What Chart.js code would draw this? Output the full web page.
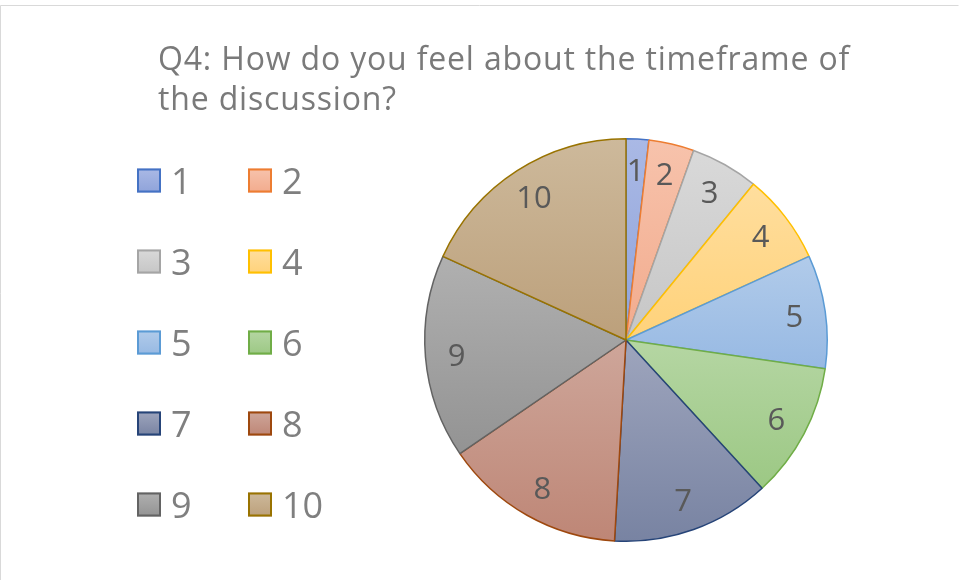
<!DOCTYPE html>
<html>
<head>
<meta charset="utf-8">
<script src="https://cdn.jsdelivr.net/npm/chart.js@4/dist/chart.umd.min.js"></script>
<style>
  html, body { margin: 0; padding: 0; background: #ffffff; }
  #wrap { position: relative; width: 959px; height: 580px; }
  canvas { display: block; }
</style>
</head>
<body>
<div id="wrap"><canvas id="c" width="959" height="580"></canvas></div>
<script>
// ---- data ----
const titleLines = ["Q4: How do you feel about the timeframe of", "the discussion?"];
const categories = ["1", "2", "3", "4", "5", "6", "7", "8", "9", "10"];
const responses  = [1, 2, 3, 4, 5, 6, 7, 8, 9, 10];

// ---- styles ----
const fillTop    = ['#AAB9E5','#F7C3AC','#D9D9D9','#FFDE9E','#B1CBEA','#B5D6A3','#9EA5BD','#CEA69A','#B0B0B0','#CDB99B'];
const fillBottom = ['#8FA3DA','#F2AB8D','#C6C6C6','#FFD27A','#97B9E3','#9CC884','#7883A2','#BE8676','#939393','#BCA07B'];
const borders    = ['#4472C4','#ED7D31','#A5A5A5','#FFC000','#5B9BD5','#70AD47','#264478','#9E480E','#636363','#997300'];
const FONT = '"Open Sans", "Liberation Sans", sans-serif';

function sliceFill(ctx) {
  const chart = ctx.chart, a = chart.chartArea, i = ctx.dataIndex;
  if (!a || i === undefined) return fillTop[i] || '#ccc';
  const cx = (a.left + a.right) / 2, cy = (a.top + a.bottom) / 2;
  const r = Math.min(a.width, a.height) / 2;
  const vals = ctx.dataset.data;
  const total = vals.reduce((s, v) => s + v, 0);
  let cum = 0; for (let k = 0; k < i; k++) cum += vals[k];
  const s = -Math.PI / 2 + cum / total * 2 * Math.PI;
  const e = s + vals[i] / total * 2 * Math.PI;
  const ys = [cy, cy + r * Math.sin(s), cy + r * Math.sin(e)];
  if (s <= Math.PI / 2 && e >= Math.PI / 2) ys.push(cy + r);
  if (s <= -Math.PI / 2 + 1e-9 || e >= 1.5 * Math.PI - 1e-9) ys.push(cy - r);
  const y0 = Math.min(...ys), y1 = Math.max(...ys);
  const g = chart.ctx.createLinearGradient(0, y0, 0, Math.max(y1, y0 + 1));
  g.addColorStop(0, fillTop[i]);
  g.addColorStop(1, fillBottom[i]);
  return g;
}

const decor = {
  id: 'decor',
  beforeDraw(chart) {
    const c = chart.ctx;
    c.save();
    c.fillStyle = '#ffffff';
    c.fillRect(0, 0, chart.width, chart.height);
    c.strokeStyle = '#D9D9D9';
    c.lineWidth = 1;
    c.beginPath();
    c.moveTo(0.5, chart.height + 5);
    c.lineTo(0.5, 5.5);
    c.lineTo(958.5, 5.5);
    c.stroke();
    c.restore();
  },
  afterDraw(chart) {
    const c = chart.ctx;
    c.save();
    // title
    c.fillStyle = '#7A7A7A';
    c.font = '32px ' + FONT;
    c.textBaseline = 'alphabetic';
    c.textAlign = 'left';
    const w0 = c.measureText(titleLines[0]).width;
    const sp = Math.max(0, (692 - w0) / titleLines[0].length);
    if ('letterSpacing' in c) c.letterSpacing = sp.toFixed(2) + 'px';
    c.fillText(titleLines[0], 158, 70);
    c.fillText(titleLines[1], 158, 110);
    if ('letterSpacing' in c) c.letterSpacing = '0px';

    // legend (2 columns)
    c.font = '36px ' + FONT;
    for (let i = 0; i < categories.length; i++) {
      const col = i % 2, row = Math.floor(i / 2);
      const bx = col === 0 ? 137 : 248;
      const tx = col === 0 ? 171 : 282;
      const cyRow = 180.5 + row * 81;
      const bs = 24;
      const g = c.createLinearGradient(0, cyRow - bs / 2, 0, cyRow + bs / 2);
      g.addColorStop(0, fillTop[i]); g.addColorStop(1, fillBottom[i]);
      c.fillStyle = g;
      c.fillRect(bx, cyRow - bs / 2, bs, bs);
      c.strokeStyle = borders[i];
      c.lineWidth = 2;
      c.strokeRect(bx + 1, cyRow - bs / 2 + 1, bs - 2, bs - 2);
      c.fillStyle = '#7F7F7F';
      c.fillText(categories[i], tx, cyRow + 13);
    }

    // data labels
    const meta = chart.getDatasetMeta(0);
    c.font = '31px ' + FONT;
    c.fillStyle = '#595959';
    c.textAlign = 'center';
    meta.data.forEach((arc, i) => {
      const p = arc.getProps(['x', 'y', 'startAngle', 'endAngle', 'outerRadius'], true);
      const mid = (p.startAngle + p.endAngle) / 2;
      const rr = p.outerRadius * 0.845;
      const x = p.x + Math.cos(mid) * rr;
      const y = p.y + Math.sin(mid) * rr;
      c.fillText(String(chart.data.datasets[0].data[i]), x, y + 11);
    });
    c.restore();
  }
};

new Chart(document.getElementById('c'), {
  type: 'pie',
  data: {
    labels: categories,
    datasets: [{
      data: responses,
      backgroundColor: sliceFill,
      borderColor: borders,
      borderWidth: 1.5
    }]
  },
  options: {
    responsive: false,
    animation: false,
    devicePixelRatio: 1,
    layout: { padding: { left: 424, right: 131, top: 138, bottom: 38 } },
    plugins: {
      legend: { display: false },
      title: { display: false },
      tooltip: { enabled: false }
    }
  },
  plugins: [decor]
});
</script>
</body>
</html>
